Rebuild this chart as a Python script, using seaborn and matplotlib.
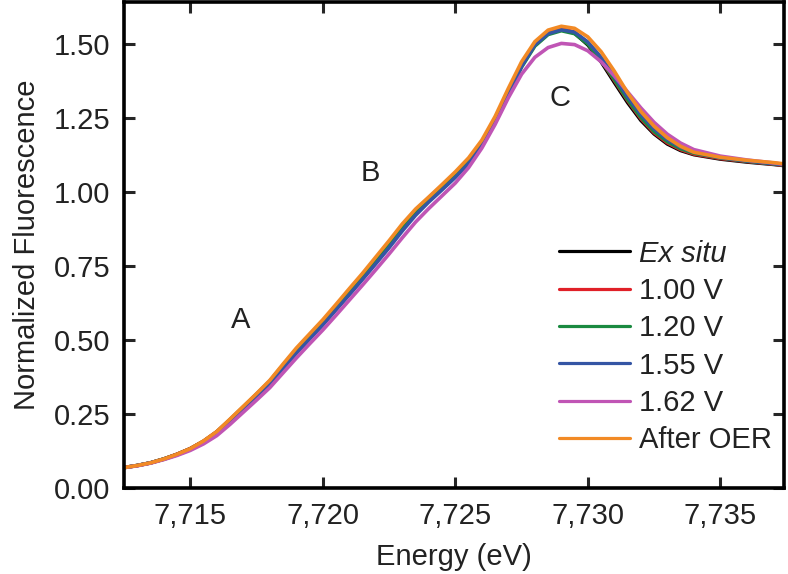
import numpy as np
import pandas as pd
import seaborn as sns
import matplotlib.pyplot as plt
from matplotlib.ticker import FixedLocator

# energy grid (eV)
energy = [7712.5, 7713, 7713.5, 7714, 7714.5, 7715, 7715.5, 7716, 7716.5, 7717,
          7717.5, 7718, 7718.5, 7719, 7719.5, 7720, 7720.5, 7721, 7721.5, 7722,
          7722.5, 7723, 7723.5, 7724, 7724.5, 7725, 7725.5, 7726, 7726.5, 7727,
          7727.5, 7728, 7728.5, 7729, 7729.5, 7730, 7730.5, 7731, 7731.5, 7732,
          7732.5, 7733, 7733.5, 7734, 7735, 7736, 7737, 7737.5]

ex_situ = [0.068, 0.075, 0.084, 0.097, 0.113, 0.132, 0.157, 0.189, 0.230, 0.273,
           0.316, 0.360, 0.414, 0.467, 0.515, 0.563, 0.615, 0.667, 0.720, 0.773,
           0.828, 0.885, 0.937, 0.980, 1.020, 1.062, 1.108, 1.168, 1.246, 1.340,
           1.430, 1.498, 1.537, 1.550, 1.537, 1.497, 1.440, 1.370, 1.302, 1.242,
           1.196, 1.162, 1.140, 1.126, 1.111, 1.101, 1.093, 1.088]
v100 = [0.068, 0.075, 0.084, 0.097, 0.113, 0.132, 0.157, 0.188, 0.229, 0.272,
        0.315, 0.359, 0.413, 0.466, 0.514, 0.562, 0.614, 0.666, 0.719, 0.772,
        0.827, 0.884, 0.936, 0.979, 1.019, 1.061, 1.107, 1.167, 1.245, 1.339,
        1.429, 1.498, 1.538, 1.552, 1.540, 1.502, 1.446, 1.377, 1.309, 1.248,
        1.200, 1.166, 1.143, 1.128, 1.113, 1.103, 1.094, 1.089]
v120 = [0.068, 0.075, 0.084, 0.097, 0.112, 0.131, 0.156, 0.187, 0.227, 0.269,
        0.312, 0.355, 0.408, 0.460, 0.508, 0.556, 0.607, 0.659, 0.711, 0.764,
        0.818, 0.875, 0.928, 0.972, 1.013, 1.055, 1.101, 1.160, 1.237, 1.331,
        1.422, 1.493, 1.532, 1.545, 1.535, 1.500, 1.446, 1.380, 1.312, 1.252,
        1.204, 1.170, 1.146, 1.131, 1.115, 1.104, 1.095, 1.090]
v155 = [0.068, 0.075, 0.084, 0.096, 0.111, 0.129, 0.153, 0.184, 0.223, 0.265,
        0.307, 0.350, 0.402, 0.454, 0.502, 0.550, 0.601, 0.652, 0.704, 0.757,
        0.811, 0.868, 0.921, 0.966, 1.007, 1.049, 1.096, 1.156, 1.235, 1.331,
        1.424, 1.497, 1.535, 1.548, 1.540, 1.507, 1.455, 1.390, 1.322, 1.262,
        1.213, 1.177, 1.151, 1.134, 1.116, 1.105, 1.096, 1.091]
v162 = [0.068, 0.074, 0.083, 0.095, 0.109, 0.126, 0.148, 0.176, 0.214, 0.255,
        0.296, 0.338, 0.388, 0.438, 0.486, 0.533, 0.583, 0.634, 0.685, 0.737,
        0.790, 0.845, 0.898, 0.944, 0.987, 1.030, 1.082, 1.148, 1.228, 1.318,
        1.398, 1.455, 1.488, 1.502, 1.498, 1.477, 1.440, 1.392, 1.338, 1.284,
        1.235, 1.195, 1.165, 1.143, 1.121, 1.108, 1.098, 1.092]
after_oer = [0.068, 0.075, 0.084, 0.097, 0.113, 0.132, 0.158, 0.190, 0.232, 0.275,
             0.318, 0.363, 0.418, 0.472, 0.520, 0.568, 0.620, 0.673, 0.725, 0.780,
             0.835, 0.892, 0.942, 0.983, 1.025, 1.068, 1.115, 1.175, 1.255, 1.350,
             1.440, 1.508, 1.547, 1.560, 1.553, 1.524, 1.474, 1.408, 1.335, 1.272,
             1.222, 1.183, 1.154, 1.134, 1.117, 1.107, 1.099, 1.094]

labels = ['Ex situ', '1.00 V', '1.20 V', '1.55 V', '1.62 V', 'After OER']
series = [ex_situ, v100, v120, v155, v162, after_oer]
colors = ['#000000', '#e02028', '#1a8a40', '#3455a4', '#c055b5', '#f28a25']

xticks = [7715, 7720, 7725, 7730, 7735]
xticklabels = ['7,715', '7,720', '7,725', '7,730', '7,735']
yticks = [0.0, 0.25, 0.5, 0.75, 1.0, 1.25, 1.5]

df = pd.concat([pd.DataFrame({'energy': energy, 'fluor': s, 'sample': l})
                for s, l in zip(series, labels)], ignore_index=True)

sns.set_style('ticks')
plt.rcParams['font.family'] = ['Liberation Sans', 'DejaVu Sans']
fs = 21
tc = '#222222'

fig = plt.figure(figsize=(7.88, 5.74), dpi=100)
ax = fig.add_axes([124 / 788, 1 - 487.7 / 574, 660 / 788, 485.7 / 574])

sns.lineplot(data=df, x='energy', y='fluor', hue='sample', hue_order=labels,
             palette=colors, linewidth=2.6, ax=ax, legend=False)

ax.set_xlim(7712.5, 7737.4)
ax.set_ylim(0, 1.642)
ax.xaxis.set_major_locator(FixedLocator(xticks))
ax.set_xticklabels(xticklabels)
ax.set_yticks(yticks)
ax.set_yticklabels(['%.2f' % v for v in yticks])
ax.tick_params(direction='in', length=8, width=2.2, top=True, right=True,
               labelsize=fs, labelcolor=tc, pad=10)
for sp in ax.spines.values():
    sp.set_linewidth(2.6)
    sp.set_color('black')

ax.set_xlabel('Energy (eV)', fontsize=fs, color=tc, labelpad=10)
ax.set_ylabel('Normalized Fluorescence', fontsize=fs, color=tc, labelpad=9)

ax.text(7716.9, 0.566, 'A', fontsize=fs, color=tc, ha='center', va='center')
ax.text(7721.8, 1.063, 'B', fontsize=fs, color=tc, ha='center', va='center')
ax.text(7728.95, 1.317, 'C', fontsize=fs, color=tc, ha='center', va='center')

handles = [plt.Line2D([], [], color=c, linewidth=2.3) for c in colors]
leg = ax.legend(handles, labels, loc='upper left', bbox_to_anchor=(0.62, 0.565),
                frameon=False, fontsize=fs, handlelength=2.43, handletextpad=0.31,
                labelspacing=0.32, borderpad=0.4)
for t in leg.get_texts():
    t.set_color(tc)
leg.get_texts()[0].set_fontstyle('italic')

fig.savefig('out.png', dpi=100)
